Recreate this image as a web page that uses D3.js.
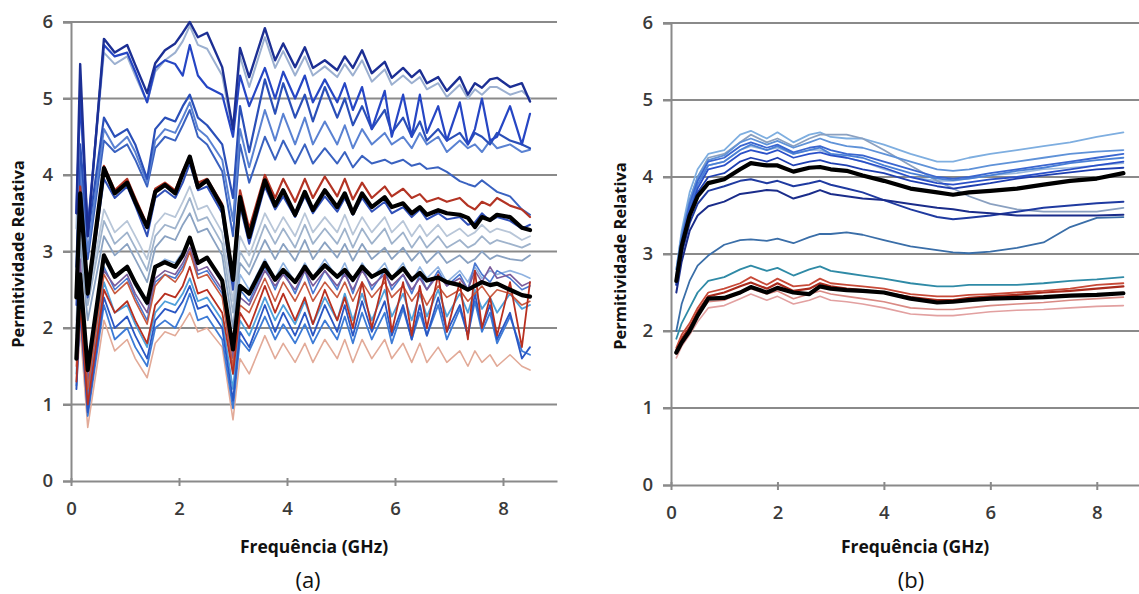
<!DOCTYPE html>
<html><head><meta charset="utf-8">
<script src="https://cdn.jsdelivr.net/npm/d3@7"></script>
<style>
body{margin:0;background:#fff;}
svg{display:block;}
text{font-family:"Open Sans","DejaVu Sans",sans-serif;}
</style></head>
<body>
<svg id="chart" width="1139" height="594"></svg>
<script>
// ---------- DATA ----------
const yTicks = [0,1,2,3,4,5,6];
const xTicks = [0,2,4,6,8];
const yTitle = "Permitividade Relativa";
const xTitle = "Frequência (GHz)";
const panelLabels = ["(a)","(b)"];

// panel (a) frequencies (GHz)
const freqA = [0.1,0.17,0.31,0.61,0.81,1.04,1.19,1.41,1.56,1.74,1.93,2.07,2.2,2.35,2.52,2.8,3.0,3.13,3.3,3.59,3.78,3.93,4.15,4.33,4.48,4.7,4.93,5.07,5.22,5.39,5.57,5.81,5.94,6.15,6.31,6.46,6.59,6.8,6.96,7.2,7.35,7.48,7.61,7.76,7.89,8.13,8.35,8.5];
const aT1 = [3.5,5.45,3.2,5.78,5.6,5.7,5.44,5.07,5.46,5.63,5.72,5.86,6.0,5.8,5.86,5.41,4.6,5.66,5.28,5.92,5.5,5.72,5.41,5.67,5.4,5.5,5.37,5.55,5.4,5.63,5.33,5.48,5.27,5.4,5.28,5.37,5.2,5.28,5.1,5.28,5.05,5.2,5.14,5.25,5.27,5.15,5.2,4.96];
const aT2 = [3.3,5.0,3.3,5.6,5.45,5.55,5.3,4.95,5.35,5.5,5.6,5.75,5.95,5.7,5.65,5.3,4.55,5.55,5.15,5.8,5.4,5.62,5.3,5.55,5.3,5.42,5.28,5.45,5.3,5.5,5.22,5.38,5.18,5.3,5.2,5.28,5.12,5.2,5.02,5.18,5.0,5.12,5.05,5.15,5.15,5.05,5.1,5.0];
const aU1 = [3.5,5.0,3.3,5.7,5.55,5.6,5.35,4.95,5.4,5.5,5.45,5.3,5.7,5.3,5.15,5.05,4.5,5.3,4.9,5.4,5.0,5.35,5.0,5.3,4.95,5.25,4.95,5.2,4.85,5.15,4.6,5.1,4.5,5.05,4.5,5.05,4.55,4.9,4.45,4.95,4.4,4.6,5.0,4.45,4.5,4.9,4.4,4.8];
const aU2 = [2.8,4.4,3.2,4.75,4.5,4.6,4.4,3.95,4.6,4.75,4.7,4.9,5.05,4.75,4.65,4.4,3.7,4.9,4.3,5.25,4.8,5.2,4.75,5.05,4.7,5.15,4.75,5.0,4.65,4.9,4.6,4.85,4.55,4.75,4.5,4.7,4.45,4.6,4.45,4.55,4.4,4.55,4.5,4.4,4.55,4.45,4.4,4.35];
const aU3 = [2.6,4.2,3.0,4.6,4.35,4.5,4.3,3.9,4.45,4.6,4.55,4.75,4.95,4.6,4.5,4.2,3.4,4.6,4.1,4.85,4.45,4.8,4.4,4.75,4.4,4.7,4.4,4.65,4.35,4.6,4.4,4.55,4.4,4.5,4.35,4.55,4.4,4.5,4.3,4.45,4.35,4.4,4.3,4.45,4.35,4.4,4.3,4.33];
const aU4 = [2.5,4.0,2.9,4.45,4.3,4.4,4.2,3.85,4.35,4.5,4.45,4.65,4.85,4.5,4.4,4.05,3.2,4.4,3.9,4.5,4.2,4.45,4.15,4.4,4.15,4.35,4.15,4.3,4.1,4.25,4.15,4.2,4.15,4.2,4.12,4.15,4.08,4.1,4.04,3.92,3.88,3.85,3.93,3.85,3.78,3.72,3.55,3.48];
const aR1 = [2.5,3.85,2.5,4.12,3.8,3.95,3.7,3.35,3.82,3.9,3.8,4.05,4.25,3.9,3.95,3.62,2.7,3.8,3.3,4.0,3.7,3.95,3.65,3.95,3.7,3.98,3.72,3.95,3.68,3.9,3.7,3.85,3.72,3.82,3.7,3.75,3.65,3.7,3.65,3.7,3.6,3.55,3.65,3.6,3.7,3.6,3.55,3.45];
const aM1 = [2.3,3.6,2.4,3.95,3.7,3.85,3.6,3.2,3.7,3.8,3.7,3.9,4.15,3.8,3.85,3.5,2.5,3.6,3.1,3.85,3.55,3.72,3.45,3.72,3.5,3.72,3.52,3.7,3.48,3.7,3.52,3.65,3.5,3.58,3.45,3.55,3.42,3.5,3.42,3.45,3.35,3.38,3.5,3.4,3.45,3.4,3.3,3.35];
const aM2a = [2.0,3.3,2.3,3.4,3.1,3.25,3.05,2.75,3.2,3.35,3.3,3.5,3.7,3.4,3.45,3.1,2.2,3.0,2.8,3.35,3.1,3.3,3.05,3.35,3.1,3.3,3.1,3.3,3.05,3.3,3.1,3.3,3.1,3.25,3.05,3.2,3.05,3.2,3.05,3.15,3.05,3.1,3.2,3.1,3.15,3.1,3.05,3.1];
const aM2b = [2.1,3.4,2.4,3.55,3.25,3.4,3.2,2.9,3.35,3.5,3.45,3.65,3.85,3.55,3.6,3.25,2.35,3.2,2.95,3.5,3.25,3.45,3.2,3.5,3.25,3.45,3.25,3.48,3.22,3.45,3.25,3.45,3.25,3.4,3.2,3.35,3.2,3.35,3.2,3.3,3.2,3.25,3.35,3.25,3.3,3.25,3.15,3.2];
const aM2c = [1.9,3.1,2.1,3.2,2.95,3.1,2.9,2.6,3.05,3.2,3.15,3.35,3.5,3.25,3.3,2.95,2.0,2.85,2.7,3.15,2.9,3.1,2.88,3.15,2.9,3.12,2.92,3.1,2.88,3.1,2.9,3.05,2.9,3.05,2.88,3.0,2.85,3.0,2.85,2.95,2.85,2.9,3.0,2.9,2.95,2.9,2.88,2.95];
const aL1a = [1.8,2.9,1.3,2.75,2.55,2.7,2.45,2.2,2.65,2.75,2.7,2.85,3.05,2.75,2.8,2.5,1.6,2.4,2.3,2.75,2.55,2.7,2.5,2.75,2.55,2.75,2.55,2.7,2.5,2.75,2.55,2.7,2.55,2.7,2.5,2.65,2.5,2.7,2.55,2.65,2.5,2.75,2.6,2.8,2.65,2.7,2.55,2.6];
const aL1b = [1.5,2.6,1.2,2.7,2.45,2.6,2.35,2.05,2.55,2.7,2.6,2.75,3.0,2.65,2.7,2.4,1.5,2.3,2.2,2.65,2.35,2.6,2.35,2.6,2.35,2.6,2.4,2.6,2.35,2.6,2.4,2.6,2.4,2.55,2.35,2.5,2.3,2.55,2.4,2.5,2.35,2.45,2.55,2.4,2.5,2.45,2.3,2.35];
const aL1c = [1.6,2.7,1.1,2.8,2.5,2.65,2.4,2.1,2.6,2.7,2.65,2.8,3.0,2.7,2.75,2.45,1.4,2.5,2.35,2.8,2.5,2.75,2.45,2.75,2.45,2.75,2.5,2.75,2.45,2.8,2.5,2.75,2.5,2.7,2.45,2.7,2.5,2.75,2.55,2.7,2.5,2.85,2.7,2.6,2.75,2.65,2.5,2.55];
const aL1d = [1.7,2.8,1.3,2.9,2.65,2.8,2.55,2.3,2.8,2.9,2.85,3.0,3.15,2.85,2.9,2.6,1.7,2.7,2.5,2.9,2.65,2.85,2.6,2.85,2.65,2.9,2.65,2.85,2.6,2.85,2.65,2.85,2.65,2.85,2.6,2.8,2.65,2.8,2.6,2.75,2.6,2.8,2.65,2.75,2.7,2.75,2.7,2.65];
const aL2a = [1.3,2.3,1.0,2.5,2.2,2.35,2.1,1.8,2.3,2.45,2.4,2.55,2.8,2.45,2.5,2.2,1.4,2.2,2.0,2.55,2.2,2.45,2.1,2.4,2.05,2.5,2.1,2.4,2.0,2.6,2.0,2.7,1.95,2.6,1.9,2.55,2.0,2.7,1.95,2.6,1.85,2.75,2.0,2.4,1.9,2.6,1.75,2.6];
const aL2b = [1.2,2.2,0.9,2.4,2.0,2.15,1.9,1.6,2.1,2.25,2.2,2.35,2.55,2.25,2.3,2.0,1.05,1.95,1.75,2.3,1.95,2.2,1.9,2.2,1.9,2.3,1.95,2.3,1.9,2.35,1.95,2.35,1.9,2.3,1.85,2.3,1.9,2.4,1.95,2.3,1.9,2.45,2.0,2.3,1.85,2.2,1.6,1.75];
const aL2c = [1.25,2.35,0.85,2.3,1.85,2.0,1.75,1.5,2.0,2.1,2.0,2.2,2.45,2.1,2.15,1.85,0.95,1.85,1.7,2.15,1.85,2.05,1.8,2.05,1.8,2.1,1.85,2.15,1.8,2.2,1.85,2.2,1.8,2.25,1.85,2.2,1.9,2.3,1.85,2.25,1.9,2.35,1.95,2.2,1.8,2.15,1.7,1.65];
const aL2d = [1.4,2.4,1.0,2.6,2.2,2.3,2.05,1.75,2.2,2.35,2.3,2.45,2.65,2.35,2.4,2.1,1.2,2.1,1.9,2.4,2.1,2.3,2.05,2.35,2.05,2.4,2.1,2.45,2.1,2.45,2.1,2.5,2.15,2.45,2.1,2.45,2.15,2.5,2.15,2.45,2.2,2.5,2.25,2.4,2.2,2.45,2.25,2.3];
const aL3 = [1.2,2.0,0.7,2.1,1.7,1.85,1.6,1.35,1.8,1.95,1.9,2.05,2.2,1.95,2.0,1.75,0.8,1.6,1.4,1.9,1.6,1.8,1.55,1.8,1.55,1.85,1.6,1.85,1.55,1.85,1.6,1.85,1.6,1.8,1.55,1.8,1.55,1.75,1.55,1.7,1.5,1.7,1.55,1.65,1.5,1.65,1.5,1.45];
const aBlackUp = [2.4,3.76,2.45,4.09,3.76,3.9,3.65,3.32,3.78,3.87,3.76,4.02,4.24,3.84,3.93,3.58,2.63,3.71,3.19,3.93,3.6,3.8,3.48,3.78,3.54,3.8,3.58,3.76,3.5,3.76,3.58,3.71,3.58,3.63,3.5,3.58,3.48,3.54,3.5,3.48,3.44,3.32,3.45,3.41,3.48,3.45,3.31,3.28];
const aBlackLo = [1.6,2.7,1.45,2.95,2.67,2.8,2.59,2.33,2.8,2.86,2.8,2.95,3.18,2.85,2.92,2.62,1.72,2.55,2.45,2.85,2.63,2.76,2.6,2.8,2.65,2.82,2.67,2.76,2.63,2.8,2.67,2.76,2.65,2.78,2.63,2.72,2.62,2.66,2.6,2.56,2.5,2.55,2.6,2.56,2.58,2.5,2.43,2.41];

// panel (b) frequencies (GHz)
const freqB = [0.1,0.2,0.35,0.5,0.7,1.0,1.3,1.5,1.8,2.0,2.3,2.6,2.8,3.0,3.3,3.6,4.0,4.5,5.0,5.3,5.6,6.0,6.5,7.0,7.5,8.0,8.5];
const bB1 = [2.8,3.3,3.8,4.1,4.3,4.35,4.55,4.6,4.5,4.58,4.45,4.55,4.58,4.52,4.5,4.5,4.42,4.3,4.2,4.2,4.25,4.3,4.35,4.4,4.45,4.52,4.58];
const bB2 = [2.7,3.2,3.7,4.0,4.25,4.3,4.45,4.55,4.45,4.5,4.4,4.5,4.55,4.55,4.55,4.5,4.35,4.15,3.95,3.85,3.75,3.65,3.58,3.55,3.55,3.55,3.6];
const bB3 = [2.7,3.2,3.65,3.95,4.2,4.25,4.4,4.45,4.38,4.42,4.32,4.38,4.4,4.35,4.3,4.28,4.2,4.1,4.0,3.98,4.0,4.05,4.1,4.15,4.2,4.25,4.3];
const bB4 = [2.6,3.1,3.55,3.85,4.1,4.15,4.3,4.35,4.3,4.35,4.25,4.3,4.32,4.28,4.25,4.2,4.12,4.0,3.92,3.9,3.93,3.97,4.0,4.05,4.1,4.15,4.2];
const bB5 = [2.7,3.15,3.6,3.9,4.15,4.2,4.35,4.42,4.35,4.4,4.3,4.35,4.38,4.3,4.28,4.25,4.15,4.05,3.98,3.96,3.98,4.02,4.08,4.12,4.18,4.22,4.25];
const bB6 = [2.65,3.1,3.5,3.8,4.0,4.05,4.2,4.25,4.2,4.25,4.15,4.2,4.22,4.18,4.15,4.1,4.05,3.95,3.88,3.85,3.88,3.92,3.98,4.02,4.06,4.1,4.12];
const bB7 = [2.8,3.25,3.7,4.0,4.22,4.28,4.45,4.5,4.42,4.47,4.38,4.45,4.5,4.45,4.4,4.38,4.3,4.2,4.1,4.08,4.1,4.15,4.2,4.25,4.3,4.33,4.35];
const bB8 = [2.75,3.2,3.65,3.95,4.15,4.2,4.35,4.4,4.35,4.38,4.3,4.35,4.35,4.3,4.25,4.2,4.1,4.0,3.95,3.95,3.98,4.02,4.05,4.1,4.12,4.15,4.18];
const bM1 = [2.6,3.0,3.4,3.65,3.82,3.88,3.95,3.97,3.92,3.95,3.88,3.92,3.95,3.9,3.85,3.8,3.7,3.58,3.48,3.45,3.47,3.5,3.55,3.6,3.63,3.66,3.68];
const bM2 = [2.5,2.9,3.3,3.5,3.62,3.68,3.78,3.8,3.83,3.82,3.72,3.78,3.83,3.78,3.75,3.72,3.7,3.65,3.6,3.58,3.55,3.53,3.5,3.5,3.5,3.5,3.51];
const bLow = [2.0,2.35,2.65,2.85,2.98,3.12,3.18,3.19,3.17,3.2,3.14,3.22,3.26,3.26,3.28,3.25,3.18,3.1,3.05,3.02,3.01,3.03,3.08,3.15,3.35,3.47,3.48];
const bTeal = [1.9,2.1,2.3,2.5,2.65,2.7,2.8,2.85,2.78,2.82,2.72,2.8,2.84,2.78,2.75,2.72,2.68,2.62,2.58,2.58,2.6,2.6,2.6,2.62,2.65,2.67,2.7];
const bRed1 = [1.78,1.95,2.1,2.3,2.5,2.55,2.62,2.7,2.6,2.68,2.58,2.6,2.68,2.62,2.6,2.58,2.55,2.48,2.45,2.45,2.47,2.48,2.5,2.52,2.55,2.6,2.62];
const bRed2 = [1.75,1.9,2.05,2.25,2.45,2.5,2.58,2.63,2.55,2.62,2.52,2.55,2.62,2.58,2.55,2.53,2.5,2.44,2.4,2.4,2.43,2.45,2.47,2.5,2.52,2.55,2.58];
const bPink1 = [1.65,1.8,1.95,2.12,2.3,2.33,2.42,2.48,2.4,2.45,2.35,2.4,2.45,2.4,2.38,2.35,2.3,2.22,2.2,2.2,2.22,2.25,2.27,2.28,2.3,2.32,2.33];
const bPink2 = [1.7,1.85,2.0,2.2,2.38,2.4,2.5,2.55,2.48,2.52,2.42,2.48,2.52,2.48,2.45,2.42,2.38,2.3,2.28,2.28,2.3,2.33,2.35,2.37,2.4,2.42,2.44];
const bBlackUp = [2.65,3.1,3.5,3.75,3.92,3.97,4.1,4.18,4.15,4.15,4.07,4.12,4.13,4.1,4.08,4.02,3.95,3.85,3.8,3.77,3.8,3.82,3.85,3.9,3.95,3.98,4.05];
const bBlackLo = [1.72,1.85,2.0,2.2,2.42,2.43,2.5,2.57,2.5,2.56,2.5,2.48,2.58,2.55,2.53,2.52,2.5,2.42,2.37,2.38,2.4,2.42,2.43,2.44,2.46,2.47,2.49];

// ---------- STYLE TABLES (drawing order) ----------
const styleA = [
  [aL3,"#e2aa98",1.6],[aM2b,"#b8c6d8",1.8],[aM2a,"#9fb3cc",1.8],[aM2c,"#8aa2c2",1.8],
  [aL1d,"#8fb2e0",1.6],[aL2d,"#4f9fda",1.8],[aL2c,"#3d7bd6",1.8],[aL2b,"#2a57c4",1.8],
  [aL1c,"#4a78d0",1.6],[aL1a,"#7a5c9c",1.6],[aL1b,"#c85a40",1.6],[aL2a,"#b83020",1.8],
  [aU4,"#3a62c0",2],[aU3,"#5a82d2",2],[aU2,"#2a4fb8",2.2],[aT2,"#9cb0d0",2],
  [aU1,"#2646c4",2.2],[aT1,"#1c2f94",2.4],[aM1,"#3050b8",2],[aR1,"#b33424",2.2],
  [aBlackUp,"#000",4.2],[aBlackLo,"#000",4.2]
];
const styleB = [
  [bPink1,"#e2a0a0",1.6],[bPink2,"#d98a84",1.6],[bTeal,"#2f8aa6",1.8],[bRed2,"#a82a1c",2.2],[bRed1,"#c84a38",1.8],
  [bLow,"#3a6ea8",1.8],[bB8,"#9ab8dc",1.6],[bB1,"#7eaee0",1.8],[bB2,"#8aa0c0",1.8],[bB7,"#5f92d8",1.8],
  [bB5,"#4a80d6",1.8],[bB3,"#3a66d0",1.8],[bB4,"#2a50c8",1.8],[bB6,"#1f3fb0",1.8],
  [bM1,"#1f3aa0",2],[bM2,"#1a2c8a",2],
  [bBlackUp,"#000",4.2],[bBlackLo,"#000",4.2]
];

// ---------- DRAW ----------
const svg = d3.select("#chart");
const panels = [
  {freq:freqA, styles:styleA, x:d3.scaleLinear().domain([0,9]).range([71,557]), y:d3.scaleLinear().domain([0,6]).range([481,22]), label:panelLabels[0], labX:308, tX:314, yT:254, yTx:18},
  {freq:freqB, styles:styleB, x:d3.scaleLinear().domain([0,9]).range([671,1150]), y:d3.scaleLinear().domain([0,6]).range([485,23]), label:panelLabels[1], labX:911, tX:915, yT:256, yTx:620}
];
const gridCol = "#8a8a8a";

panels.forEach(p => {
  const g = svg.append("g");
  const x0 = p.x.range()[0], x1 = p.x.range()[1];
  // gridlines
  g.selectAll("line.grid").data(yTicks.filter(d=>d>0)).enter().append("line")
    .attr("x1", x0-8).attr("x2", x1).attr("y1", d=>p.y(d)).attr("y2", d=>p.y(d))
    .attr("stroke", gridCol).attr("stroke-width", 2);
  // y axis
  const yAx = d3.axisLeft(p.y).tickValues(yTicks).tickSize(8).tickFormat(d3.format("d"));
  const yg = g.append("g").attr("transform", `translate(${x0},0)`).call(yAx);
  yg.attr("font-family", null);
  yg.select(".domain").attr("stroke", gridCol).attr("stroke-width", 2);
  yg.selectAll(".tick line").attr("stroke", gridCol).attr("stroke-width", 2);
  yg.selectAll(".tick text").attr("x", -18).attr("font-size", 18.5).attr("font-weight", 600).attr("fill", "#3a3a3a");
  // x axis
  const xAx = d3.axisBottom(p.x).tickValues(xTicks).tickSize(5).tickSizeOuter(0).tickFormat(d3.format("d"));
  const xg = g.append("g").attr("transform", `translate(0,${p.y(0)})`).call(xAx);
  xg.attr("font-family", null);
  xg.select(".domain").attr("stroke", gridCol).attr("stroke-width", 2.2);
  xg.selectAll(".tick line").attr("stroke", gridCol).attr("stroke-width", 2).attr("y1", -3);
  xg.selectAll(".tick text").attr("y", 21).attr("font-size", 18.5).attr("font-weight", 600).attr("fill", "#3a3a3a");

  // series lines
  const line = d3.line().x((d,i)=>p.x(p.freq[i])).y(d=>p.y(d));
  g.selectAll("path.series").data(p.styles).enter().append("path")
    .attr("class","series")
    .attr("d", s => line(s[0]))
    .attr("fill","none")
    .attr("stroke", s => s[1])
    .attr("stroke-width", s => s[2])
    .attr("stroke-linejoin","round")
    .attr("stroke-linecap","round");

  // titles
  g.append("text").attr("transform", `translate(${p.yTx + 6},${p.yT}) rotate(-90)`)
    .attr("text-anchor","middle").attr("font-size",16.5).attr("font-weight",700).attr("fill","#111").text(yTitle);
  g.append("text").attr("x", p.tX).attr("y", 553)
    .attr("text-anchor","middle").attr("font-size",17.5).attr("font-weight",700).attr("fill","#111").text(xTitle);
  g.append("text").attr("x", p.labX).attr("y", 588)
    .attr("text-anchor","middle").attr("font-size",22).attr("fill","#111").text(p.label);
});
</script>
</body></html>
